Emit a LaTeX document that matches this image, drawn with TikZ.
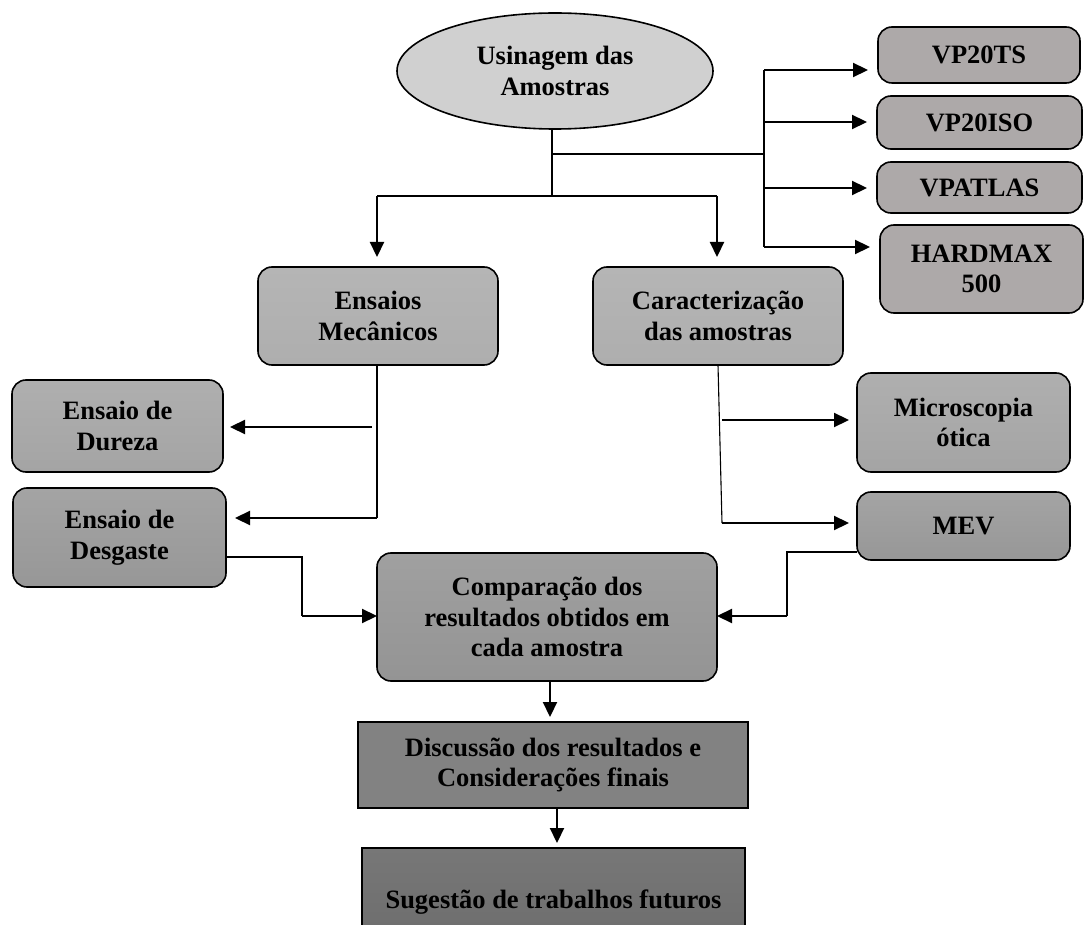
\documentclass[tikz,border=0pt]{standalone}
\usepackage{fontspec}
\setmainfont{Liberation Serif}
\usetikzlibrary{shapes.geometric,arrows.meta,calc}
\definecolor{ellcol}{HTML}{D0D0D0}
\definecolor{vpcol}{HTML}{ADA9A9}
\definecolor{cA}{HTML}{B5B5B5}
\definecolor{cAd}{HTML}{AEAEAE}
\definecolor{cB}{HTML}{AFAFAF}
\definecolor{cBd}{HTML}{A4A4A4}
\definecolor{cC}{HTML}{A4A4A4}
\definecolor{cCd}{HTML}{979797}
\definecolor{cD}{HTML}{A0A0A0}
\definecolor{cDd}{HTML}{949494}
\definecolor{cE}{HTML}{828282}
\definecolor{cF}{HTML}{777777}
\definecolor{cFd}{HTML}{6C6C6C}
\begin{document}
\begin{tikzpicture}[x=1pt,y=-1pt,
  every node/.style={font=\bfseries\fontsize{26.5}{30.5}\selectfont, align=center, inner sep=0pt, outer sep=0pt},
  rbox/.style={draw=black, line width=1.6pt, rounded corners=14pt},
  sbox/.style={draw=black, line width=1.6pt},
  thinline/.style={line width=1.1pt},
  arr/.style={line width=2.2pt, -{Triangle[length=15pt,width=14pt]}},
  seg/.style={line width=2.2pt}]
\useasboundingbox (0,0) rectangle (1085,925);

% nodes
\node[draw=black, line width=1.6pt, fill=ellcol, shape=ellipse, minimum width=316pt, minimum height=116pt] (usin) at (555,71) {Usinagem das\\Amostras};

\node[rbox, fill=vpcol, minimum width=202pt, minimum height=56pt] (vp1) at (979,55) {VP20TS};
\node[rbox, fill=vpcol, minimum width=205pt, minimum height=53pt] (vp2) at (979.5,122.5) {VP20ISO};
\node[rbox, fill=vpcol, minimum width=205pt, minimum height=51pt] (vp3) at (979.5,187.5) {VPATLAS};
\node[rbox, fill=vpcol, minimum width=203pt, minimum height=88pt] (vp4) at (981.5,269) {HARDMAX\\500};

\node[rbox, top color=cA, bottom color=cAd, minimum width=240pt, minimum height=98pt] (ensm) at (378,316) {Ensaios\\Mecânicos};
\node[rbox, top color=cA, bottom color=cAd, minimum width=250pt, minimum height=98pt] (carac) at (718,316) {Caracterização\\das amostras};

\node[rbox, top color=cB, bottom color=cBd, minimum width=211pt, minimum height=92pt] (dur) at (117.5,426) {Ensaio de\\Dureza};
\node[rbox, top color=cC, bottom color=cCd, minimum width=213pt, minimum height=99pt] (desg) at (119.5,537.5) {Ensaio de\\Desgaste};

\node[rbox, top color=cB, bottom color=cBd, minimum width=213pt, minimum height=99pt] (micro) at (963.5,422.5) {Microscopia\\ótica};
\node[rbox, top color=cC, bottom color=cCd, minimum width=213pt, minimum height=68pt] (mev) at (963.5,526) {MEV};

\node[rbox, top color=cD, bottom color=cDd, minimum width=340pt, minimum height=128pt] (comp) at (547,617) {Comparação dos\\resultados obtidos em\\cada amostra};

\node[sbox, fill=cE, minimum width=390pt, minimum height=86pt] (disc) at (553,765) {Discussão dos resultados e\\Considerações finais};

\node[sbox, top color=cF, bottom color=cFd, minimum width=383pt, minimum height=108pt] (sug) at (553.5,902) {Sugestão de trabalhos futuros};

% junction coordinates
\coordinate (j1) at (552,196);
\coordinate (j2) at (552,154);
\coordinate (r1) at (764,70);
\coordinate (r4) at (764,247);
\coordinate (el) at (377,196);
\coordinate (er) at (717,196);
\coordinate (ml) at (377,518);
\coordinate (md) at (372,427);
\coordinate (cb) at (722,523);
\coordinate (cm) at (722,420);
\coordinate (dk) at (302,557);
\coordinate (mk) at (787,552);

% top branches
\draw[thinline] (usin.south -| j1) -- (j1);
\draw[thinline] (el) -- (er);
\draw[arr, shorten >=10pt] (el) -- (el |- ensm.north);
\draw[arr, shorten >=10pt] (er) -- (er |- carac.north);
\draw[thinline] (j2) -- (j2 -| r1);
\draw[thinline] (r1) -- (r4);
\draw[arr, shorten >=10pt] (r1) -- (r1 -| vp1.west);
\draw[arr, shorten >=10pt] (764,122) -- (vp2.west |- 0,122);
\draw[arr, shorten >=10pt] (764,188) -- (vp3.west |- 0,188);
\draw[arr, shorten >=10pt] (r4) -- (r4 -| vp4.west);

% ensaios mecanicos
\draw[thinline] (ensm.south -| ml) -- (ml);
\draw[arr, shorten >=7pt] (md) -- (md -| dur.east);
\draw[arr, shorten >=9pt] (ml) -- (ml -| desg.east);

% caracterizacao
\draw[thinline] (carac.south -| 718,0) -- (cb);
\draw[arr, shorten >=8pt] (cm) -- (cm -| micro.west);
\draw[arr, shorten >=8pt] (cb) -- (cb -| mev.west);

% into comparacao
\draw[seg] (desg.east |- dk) -- (dk) -- (302,616);
\draw[arr] (302,616) -- (comp.west |- 0,616);
\draw[seg] (mev.west |- mk) -- (mk) -- (787,616);
\draw[arr] (787,616) -- (comp.east |- 0,616);

% bottom chain
\draw[arr, shorten >=5pt] (comp.south -| 550,0) -- (disc.north -| 550,0);
\draw[arr, shorten >=5pt] (disc.south -| 557,0) -- (sug.north -| 557,0);
\end{tikzpicture}
\end{document}
